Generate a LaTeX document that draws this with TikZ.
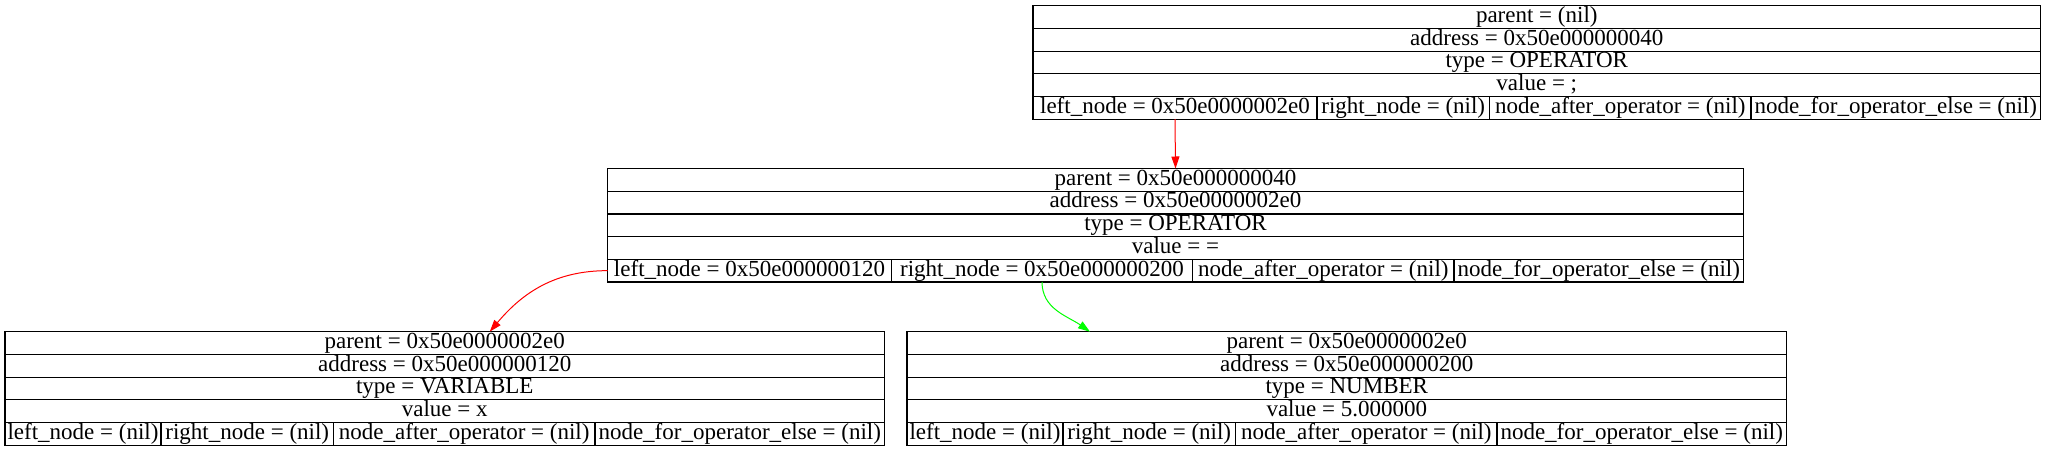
\documentclass[tikz,border=0pt]{standalone}
\usepackage{fontspec}
\setmainfont{Liberation Serif}
\usetikzlibrary{arrows.meta,calc,positioning}

\begin{document}
\begin{tikzpicture}[x=1pt,y=-1pt,>={Triangle[length=12pt,width=8pt]}]

\tikzset{field/.style={
  rectangle,
  inner sep=0pt, outer sep=0pt,
  draw=black, line width=1.2pt,
  font=\fontsize{23}{25}\selectfont,
  text height=15.8pt, text depth=5pt,
  minimum height=22.7pt,
  anchor=north west
  }}

\useasboundingbox (0,0) rectangle (2045,451);

% top record
\foreach \txt [count=\i] in {{parent = (nil)},{address = 0x50e000000040},{type = OPERATOR},{value = ;}}
  \node[field, minimum width=1007.5pt] (T\i) at (1033,5.7+22.7*\i-22.7) {\txt};
\node[field, minimum width=284pt] (Tl) at (1033,96.5) {left\_node = 0x50e0000002e0};
\node[field, minimum width=172.5pt, right=0pt of Tl] (Tr) {right\_node = (nil)};
\node[field, minimum width=261.5pt, right=0pt of Tr] (Ta) {node\_after\_operator = (nil)};
\node[field, minimum width=289.5pt, right=0pt of Ta] (Te) {node\_for\_operator\_else = (nil)};

% middle record
\foreach \txt [count=\i] in {{parent = 0x50e000000040},{address = 0x50e0000002e0},{type = OPERATOR},{value = =}}
  \node[field, minimum width=1136pt] (M\i) at (607.5,168.5+22.7*\i-22.7) {\txt};
\node[field, minimum width=284pt] (Ml) at (607.5,259.3) {left\_node = 0x50e000000120};
\node[field, minimum width=301pt, right=0pt of Ml] (Mr) {right\_node = 0x50e000000200};
\node[field, minimum width=261.5pt, right=0pt of Mr] (Ma) {node\_after\_operator = (nil)};
\node[field, minimum width=289.5pt, right=0pt of Ma] (Me) {node\_for\_operator\_else = (nil)};

% variable
\foreach \txt [count=\i] in {{parent = 0x50e0000002e0},{address = 0x50e000000120},{type = VARIABLE},{value = x}}
  \node[field, minimum width=879.5pt] (L\i) at (5,331.7+22.7*\i-22.7) {\txt};
\node[field, minimum width=156pt] (Ll) at (5,422.5) {left\_node = (nil)};
\node[field, minimum width=172.5pt, right=0pt of Ll] (Lr) {right\_node = (nil)};
\node[field, minimum width=261.5pt, right=0pt of Lr] (La) {node\_after\_operator = (nil)};
\node[field, minimum width=289.5pt, right=0pt of La] (Le) {node\_for\_operator\_else = (nil)};

% number
\foreach \txt [count=\i] in {{parent = 0x50e0000002e0},{address = 0x50e000000200},{type = NUMBER},{value = 5.000000}}
  \node[field, minimum width=879.5pt] (R\i) at (907,331.7+22.7*\i-22.7) {\txt};
\node[field, minimum width=156pt] (Rl) at (907,422.5) {left\_node = (nil)};
\node[field, minimum width=172.5pt, right=0pt of Rl] (Rr) {right\_node = (nil)};
\node[field, minimum width=261.5pt, right=0pt of Rr] (Ra) {node\_after\_operator = (nil)};
\node[field, minimum width=289.5pt, right=0pt of Ra] (Re) {node\_for\_operator\_else = (nil)};

\path[draw,->,red,line width=1pt] (Tl.south) -- (M1.north);
\path[draw,->,red,line width=1pt] (Ml.west) to[out=180,in=50] ($(L1.north)+(45,0)$);
\path[draw,->,green,line width=1pt] (Mr.south) to[out=-90,in=145] ($(R1.north west)+(183,0)$);
\end{tikzpicture}
\end{document}
